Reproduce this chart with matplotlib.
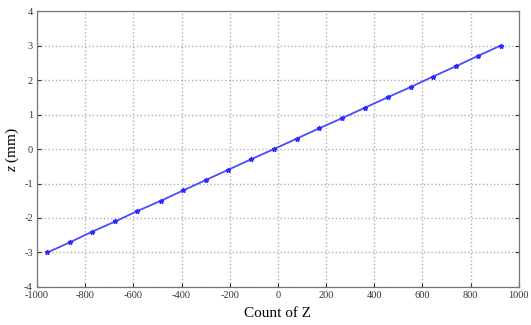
import matplotlib
matplotlib.use("Agg")
import matplotlib.pyplot as plt
import numpy as np

# readings from the reference
count_z = [-957, -862, -772, -675, -584, -485, -393, -299, -206, -112, -16,
           78, 171, 268, 362, 456, 552, 644, 739, 831, 925]
z_mm = [-3.0, -2.7, -2.4, -2.1, -1.8, -1.5, -1.2, -0.9, -0.6, -0.3, 0.0,
        0.3, 0.6, 0.9, 1.2, 1.5, 1.8, 2.1, 2.4, 2.7, 3.0]
xticks = [-1000, -800, -600, -400, -200, 0, 200, 400, 600, 800, 1000]
yticks = [-4, -3, -2, -1, 0, 1, 2, 3, 4]

plt.rcParams['font.family'] = ['Liberation Serif', 'DejaVu Serif']
plt.rcParams['axes.unicode_minus'] = False
plt.rcParams['mathtext.fontset'] = 'custom'
plt.rcParams['mathtext.it'] = 'Liberation Serif:italic'
plt.rcParams['mathtext.rm'] = 'Liberation Serif'

fig = plt.figure(figsize=(5.31, 3.25), dpi=100)
ax = fig.add_axes([0.0697, 0.117, 0.9073, 0.849])

ax.plot(count_z, z_mm, color='#4a4aff', lw=1.3, marker='*', ms=3.5,
        mec='#2a2aff', mfc='#2a2aff')

ax.set_xlim(-1000, 1000)
ax.set_ylim(-4, 4)
ax.set_xticks(xticks)
ax.set_yticks(yticks)
ax.grid(True, color='#b0b0b0', ls=':', lw=1.0)
ax.tick_params(direction='in', length=3, labelsize=7.5, colors='#333333',
               top=False, right=True, pad=3)
for s in ax.spines.values():
    s.set_color('#777777')
    s.set_linewidth(0.9)

ax.set_xlabel('Count of Z', fontsize=11, labelpad=5)
ax.set_ylabel(r'$z$ (mm)', fontsize=11, labelpad=2)

fig.savefig('out.png', dpi=100)
